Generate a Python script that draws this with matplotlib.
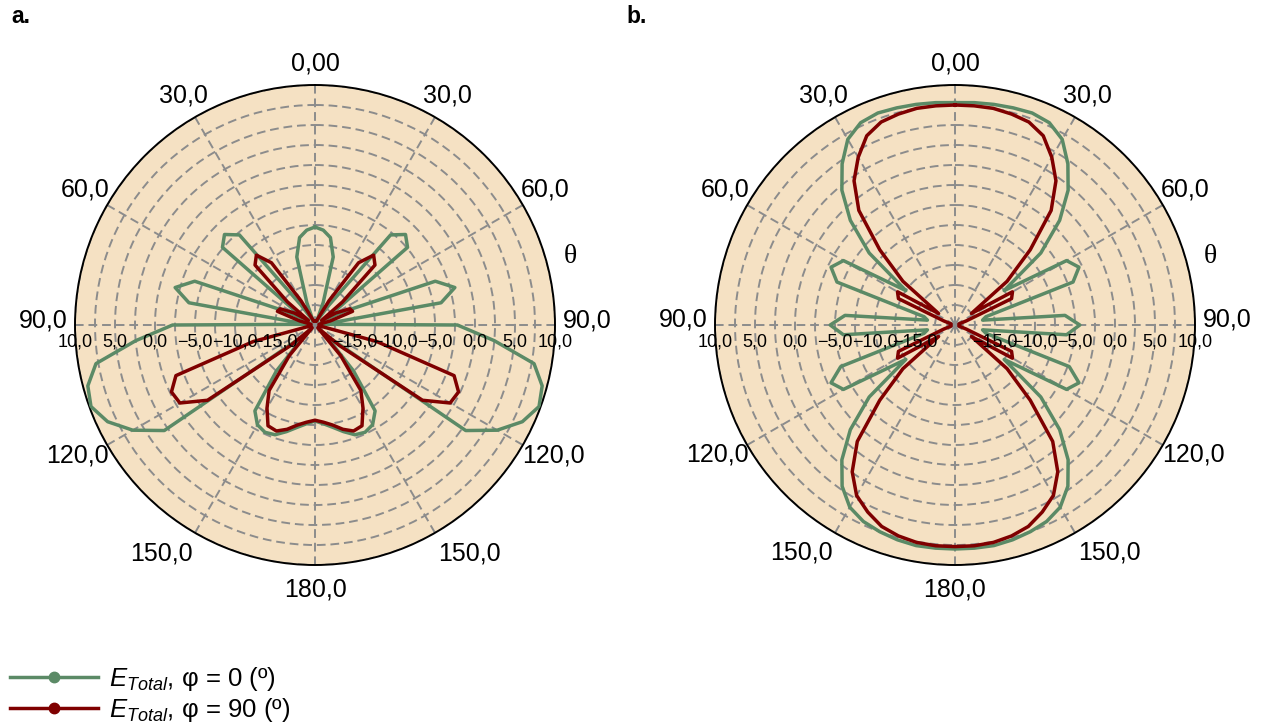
import numpy as np
import matplotlib
matplotlib.use("Agg")
import matplotlib.pyplot as plt
from matplotlib.lines import Line2D
from matplotlib import transforms

plt.rcParams['font.family'] = ['Liberation Sans', 'DejaVu Sans']
plt.rcParams['mathtext.fontset'] = 'custom'
plt.rcParams['mathtext.rm'] = 'Liberation Sans'
plt.rcParams['mathtext.it'] = 'Liberation Sans:italic'

# angulo theta (grados), medio diagrama 0..180, el otro lado es simetrico
theta_deg = [0, 5, 10, 15, 20, 25, 30, 35, 40, 45, 50, 55, 60, 65, 70, 75, 80, 85, 90,
             95, 100, 105, 110, 115, 120, 125, 130, 135, 140, 145, 150, 155, 160, 165,
             170, 175, 180]

# a. (dB)
a_phi0 = [-7.75, -8.1, -8.9, -11.2, -17.0, -19.5, -19.0, -17.0, -5.3, -4.0, -4.9, -17.0,
          -19.0, -16.0, -4.0, -1.9, -4.0, -19.0, -2.2, 2.5, 7.8, 9.4, 9.8, 8.6, 6.3, 3.0,
          -17.0, -18.0, -12.5, -6.9, -5.6, -5.2, -5.4, -6.2, -7.0, -7.6, -8.0]
a_phi90 = [-19.5, -19.5, -19.5, -19.5, -19.5, -19.0, -16.5, -10.5, -8.6, -9.4, -15.5, -19.0,
           -17.0, -15.2, -15.0, -18.0, -19.5, -19.5, -19.5, -19.5, -19.5, -12.0, -1.5, -0.2,
           -0.5, -3.6, -16.0, -19.5, -15.0, -10.0, -8.0, -6.1, -5.9, -6.5, -7.3, -7.8, -8.1]

# b. (dB)
b_phi0 = [7.8, 7.9, 8.0, 8.1, 8.2, 7.9, 6.8, 4.6, 2.0, -1.5, -6.0, -12.5, -3.9, -2.9, -4.3,
          -16.0, -16.5, -6.2, -4.4, -6.0, -16.5, -16.0, -4.8, -2.9, -3.9, -12.5, -6.0, -1.5,
          2.0, 4.6, 6.3, 7.1, 7.5, 7.8, 8.0, 8.0, 8.0]
b_phi90 = [7.5, 7.5, 7.5, 7.3, 7.0, 6.1, 4.2, 2.0, -1.3, -6.7, -11.5, -17.5, -11.7, -12.2,
           -18.5, -19.5, -19.5, -19.5, -19.5, -19.5, -19.5, -19.5, -18.5, -12.2, -11.7, -17.5,
           -11.5, -6.7, -1.0, 2.4, 4.6, 5.8, 6.8, 7.3, 7.6, 7.7, 7.7]

theta_ticks = [0, 30, 60, 90, 120, 150, 180, 210, 240, 270, 300, 330]
theta_labels = ['0,00', '30,0', '60,0', '90,0', '120,0', '150,0', '180,0',
                '150,0', '120,0', '90,0', '60,0', '30,0']
# donde va el centro de cada etiqueta de theta (px desde el centro, lado derecho)
label_dx = [0, 132, 230, 272, 238, 154, 0]
label_dy = [262, 230, 135, 5, -130, -228, -265]
r_ticks = [-15, -10, -5, 0, 5, 10]
r_labels = ['\u221215,0', '\u221210,0', '\u22125,0', '0,0', '5,0', '10,0']

c_green = '#5b8a66'
c_red = '#7f0000'
c_bg = '#f5e1c3'
c_grid = '#8c8c8c'
R_PX = 240.0


def full(vals):
    # completar el lado izquierdo (simetrico)
    t = np.array(theta_deg + [360 - x for x in theta_deg[::-1][1:]])
    v = np.array(vals + vals[::-1][1:])
    return np.deg2rad(t), v


def panel(ax, g, r):
    ax.set_facecolor(c_bg)
    ax.set_theta_zero_location('N')
    ax.set_theta_direction(-1)
    ax.set_ylim(-20, 10)
    ax.set_yticks(np.arange(-20, 10.1, 2.5))
    ax.set_yticklabels([])
    ax.set_thetagrids(theta_ticks, [''] * len(theta_ticks))
    ax.tick_params(axis='y', length=0)
    ax.grid(True, color=c_grid, linestyle=(0, (4.5, 2.5)), linewidth=1.4)
    ax.spines['polar'].set_color('black')
    ax.spines['polar'].set_linewidth(1.4)

    t, v = full(g)
    ax.plot(t, v, color=c_green, lw=2.5, zorder=3)
    t, v = full(r)
    ax.plot(t, v, color=c_red, lw=2.5, zorder=4)

    # etiquetas de theta
    for i, lab in enumerate(theta_labels):
        k = i if i <= 6 else 12 - i
        sx = 1 if i <= 6 else -1
        ax.text(0.5 + sx * label_dx[k] / (2 * R_PX), 0.5 + label_dy[k] / (2 * R_PX), lab,
                transform=ax.transAxes, ha='center', va='center', fontsize=18)

    off = transforms.ScaledTranslation(0, -0.17, ax.figure.dpi_scale_trans)
    for rv, lab in zip(r_ticks, r_labels):
        for ang in (90, 270):
            ax.text(np.deg2rad(ang), rv, lab, transform=ax.transData + off,
                    ha='center', va='center', fontsize=13, zorder=6)
    ax.text(1.033, 0.642, '\u03b8', transform=ax.transAxes, fontsize=20,
            family=['Liberation Serif', 'DejaVu Serif'], ha='center', va='center')


fig = plt.figure(figsize=(12.66, 7.22), dpi=100)
ax1 = fig.add_axes([75 / 1266, 1 - 565 / 722, 480 / 1266, 480 / 722], projection='polar')
ax2 = fig.add_axes([715 / 1266, 1 - 565 / 722, 480 / 1266, 480 / 722], projection='polar')
panel(ax1, a_phi0, a_phi90)
panel(ax2, b_phi0, b_phi90)

fig.text(11 / 1266, 1 - 5 / 722, 'a.', fontsize=16.5, fontweight='bold', va='top')
fig.text(626 / 1266, 1 - 5 / 722, 'b.', fontsize=16.5, fontweight='bold', va='top')

handles = [Line2D([], [], color=c_green, lw=2.5, marker='o', ms=7.5),
           Line2D([], [], color=c_red, lw=2.5, marker='o', ms=7.5)]
labels = ['$E_{Total}$, \u03c6 = 0 (\u00ba)', '$E_{Total}$, \u03c6 = 90 (\u00ba)']
fig.legend(handles, labels, loc='lower left', bbox_to_anchor=(-0.004, -0.024), frameon=False,
           fontsize=18.5, handlelength=3.4, handletextpad=0.45, labelspacing=0.12,
           borderaxespad=0.2, numpoints=1)

fig.savefig('out.png', dpi=100)
